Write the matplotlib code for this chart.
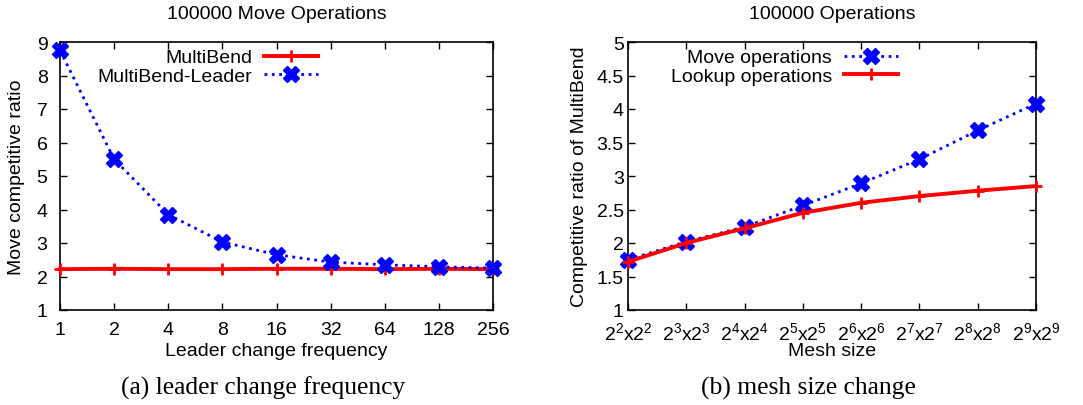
import matplotlib
matplotlib.use("Agg")
import matplotlib.pyplot as plt

plt.rcParams["font.family"] = ["Liberation Sans", "DejaVu Sans"]
plt.rcParams["mathtext.default"] = "regular"

# (a) leader change frequency
freq = [1, 2, 4, 8, 16, 32, 64, 128, 256]
multibend = [2.22, 2.23, 2.22, 2.22, 2.23, 2.23, 2.22, 2.23, 2.22]
multibend_leader = [8.75, 5.5, 3.85, 3.03, 2.65, 2.43, 2.35, 2.29, 2.25]

# (b) mesh size change
mesh_labels = ["$2^2$x$2^2$", "$2^3$x$2^3$", "$2^4$x$2^4$", "$2^5$x$2^5$",
               "$2^6$x$2^6$", "$2^7$x$2^7$", "$2^8$x$2^8$", "$2^9$x$2^9$"]
move_ops = [1.75, 2.02, 2.24, 2.56, 2.89, 3.25, 3.68, 4.08]
lookup_ops = [1.72, 2.0, 2.22, 2.45, 2.6, 2.7, 2.78, 2.85]

W, H = 1083, 406
fig = plt.figure(figsize=(W / 100, H / 100), dpi=100)

ax1 = fig.add_axes([60 / W, (H - 311) / H, 433 / W, 268 / H])
ax2 = fig.add_axes([628 / W, (H - 311) / H, 408 / W, 268 / H])

fs = 14

ax1.plot(freq, multibend, color="red", lw=2.8, marker="+", ms=9, mew=2,
         label="MultiBend", clip_on=False, zorder=3)
ax1.plot(freq, multibend_leader, color="blue", lw=2, ls=":", marker="X",
         ms=11, label="MultiBend-Leader", clip_on=False, zorder=4)
ax1.set_xscale("log", base=2)
ax1.set_xlim(1, 256)
ax1.set_ylim(1, 9)
ax1.set_xticks(freq)
ax1.set_xticklabels([str(f) for f in freq])
ax1.set_yticks(range(1, 10))
ax1.minorticks_off()
ax1.set_title("100000 Move Operations", fontsize=fs, pad=17)
ax1.set_xlabel("Leader change frequency", fontsize=fs)
ax1.set_ylabel("Move competitive ratio", fontsize=fs, labelpad=8)
ax1.legend(loc="upper right", bbox_to_anchor=(0.637, 1.04), frameon=False,
           markerfirst=False, fontsize=fs, handlelength=2.8, labelspacing=0.05,
           handletextpad=0.6)

x2 = list(range(len(mesh_labels)))
ax2.plot(x2, move_ops, color="blue", lw=2, ls=":", marker="X", ms=11,
         label="Move operations", clip_on=False, zorder=3)
ax2.plot(x2, lookup_ops, color="red", lw=2.8, marker="+", ms=9, mew=2,
         label="Lookup operations", clip_on=False, zorder=4)
ax2.set_xlim(0, 7)
ax2.set_ylim(1, 5)
ax2.set_xticks(x2)
ax2.set_xticklabels(mesh_labels)
ax2.set_yticks([1, 1.5, 2, 2.5, 3, 3.5, 4, 4.5, 5])
ax2.set_yticklabels(["1", "1.5", "2", "2.5", "3", "3.5", "4", "4.5", "5"])
ax2.set_title("100000 Operations", fontsize=fs, pad=17)
ax2.set_xlabel("Mesh size", fontsize=fs)
ax2.set_ylabel("Competitive ratio of MultiBend", fontsize=fs, labelpad=6)
ax2.legend(loc="upper right", bbox_to_anchor=(0.705, 1.04), frameon=False,
           markerfirst=False, fontsize=fs, handlelength=2.8, labelspacing=0.05,
           handletextpad=0.6)

for ax in (ax1, ax2):
    ax.tick_params(direction="in", top=True, right=True, labelsize=fs,
                   length=5, width=1)
    ax.tick_params(axis="x", pad=8)
    ax.xaxis.set_label_coords(0.5, -(343 - 311) / 268)
    for s in ax.spines.values():
        s.set_linewidth(1.2)
ax1.tick_params(axis="y", pad=9)
ax2.tick_params(axis="y", pad=3)

fig.text(263 / W, 1 - 388 / H, "(a) leader change frequency",
         family=["Liberation Serif", "DejaVu Serif"], fontsize=18.4,
         ha="center", va="center")
fig.text(808 / W, 1 - 388 / H, "(b) mesh size change",
         family=["Liberation Serif", "DejaVu Serif"], fontsize=18.4,
         ha="center", va="center")

fig.savefig("out.png", dpi=100)
